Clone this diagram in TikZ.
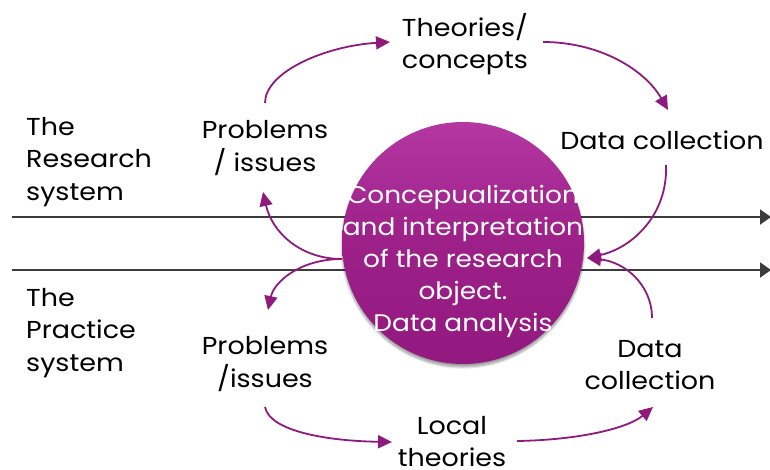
\documentclass[tikz,border=0pt]{standalone}
\usepackage{fontspec}
\setmainfont{Poppins}[FakeStretch=1.1]
\usetikzlibrary{arrows.meta,shadows.blur}
\definecolor{arrowpurple}{HTML}{8E1A7E}
\definecolor{balltop}{HTML}{B437A2}
\definecolor{ballmid}{HTML}{9C2088}
\definecolor{ballbot}{HTML}{92197F}
\definecolor{axisgray}{HTML}{3C3C3C}
\tikzset{
  label/.style={align=center, font=\fontsize{24.5}{32.5}\selectfont, text=black, inner sep=0pt},
  sidelabel/.style={label, align=left, anchor=west},
  flow/.style={draw=arrowpurple, line width=1.8pt, -{Triangle[length=14pt,width=13pt]}},
  axis/.style={draw=axisgray, line width=2pt, -{Triangle[length=11pt,width=15pt]}},
}
\begin{document}
\begin{tikzpicture}[x=1pt,y=-1pt]
\useasboundingbox (0,0) rectangle (770,470);

% the two system axes
\coordinate (rs0) at (12,217);
\coordinate (rs1) at (771,217);
\coordinate (ps0) at (12,270);
\coordinate (ps1) at (771,270);
\draw[axis] (rs0) -- (rs1);
\draw[axis] (ps0) -- (ps1);

% central ball
\node[circle, minimum size=242pt, inner sep=0pt,
      top color=balltop, bottom color=ballbot, middle color=ballmid,
      blur shadow={shadow xshift=0pt, shadow yshift=-3pt, shadow blur steps=8, shadow opacity=40}]
  (ball) at (463,243) {};
\node[label, text=white, font=\fontsize{24}{32}\selectfont] (balltext) at (463,261)
  {Concepualization\\and interpretation\\of the research\\object.\\Data analysis};

% labels
\node[sidelabel] (research) at (26,162) {The\\Research\\system};
\node[sidelabel] (practice) at (26,333) {The\\Practice\\system};
\node[label] (probR) at (265,148) {Problems\\/ issues};
\node[label] (theories) at (465,44) {Theories/\\concepts};
\node[label] (dcR) at (662,140) {Data collection};
\node[label] (probP) at (265,364) {Problems\\/issues};
\node[label] (dcP) at (650,365) {Data\\collection};
\node[label, anchor=south] (local) at (452,467) {Local\\theories};

% connector end points
\coordinate (a1s) at (265,103);  \coordinate (a1e) at (390,42);
\coordinate (a2s) at (543,42);   \coordinate (a2e) at (668,110);
\coordinate (a3s) at (666,165);  \coordinate (a3e) at (587,258);
\coordinate (a4s) at (652,318);
\coordinate (a5s) at (342,259);  \coordinate (a5e) at (263,192);
\coordinate (a6e) at (268,310);
\coordinate (a7s) at (265,407);  \coordinate (a7e) at (392,442);
\coordinate (a8s) at (517,441);  \coordinate (a8e) at (653,407);

% research cycle
\draw[flow] (a1s) .. controls (265,72) and (325,46) .. (a1e);
\draw[flow] (a2s) .. controls (600,42) and (645,70) .. (a2e);
\draw[flow] (a3s) .. controls (668,215) and (632,248) .. (a3e);
% practice cycle
\draw[flow] (a4s) .. controls (652,285) and (625,262) .. (a3e);
\draw[flow] (a5s) .. controls (300,259) and (272,232) .. (a5e);
\draw[flow] (a5s) .. controls (300,259) and (274,282) .. (a6e);
\draw[flow] (a7s) .. controls (270,432) and (330,441) .. (a7e);
\draw[flow] (a8s) .. controls (580,440) and (628,428) .. (a8e);
\end{tikzpicture}
\end{document}
